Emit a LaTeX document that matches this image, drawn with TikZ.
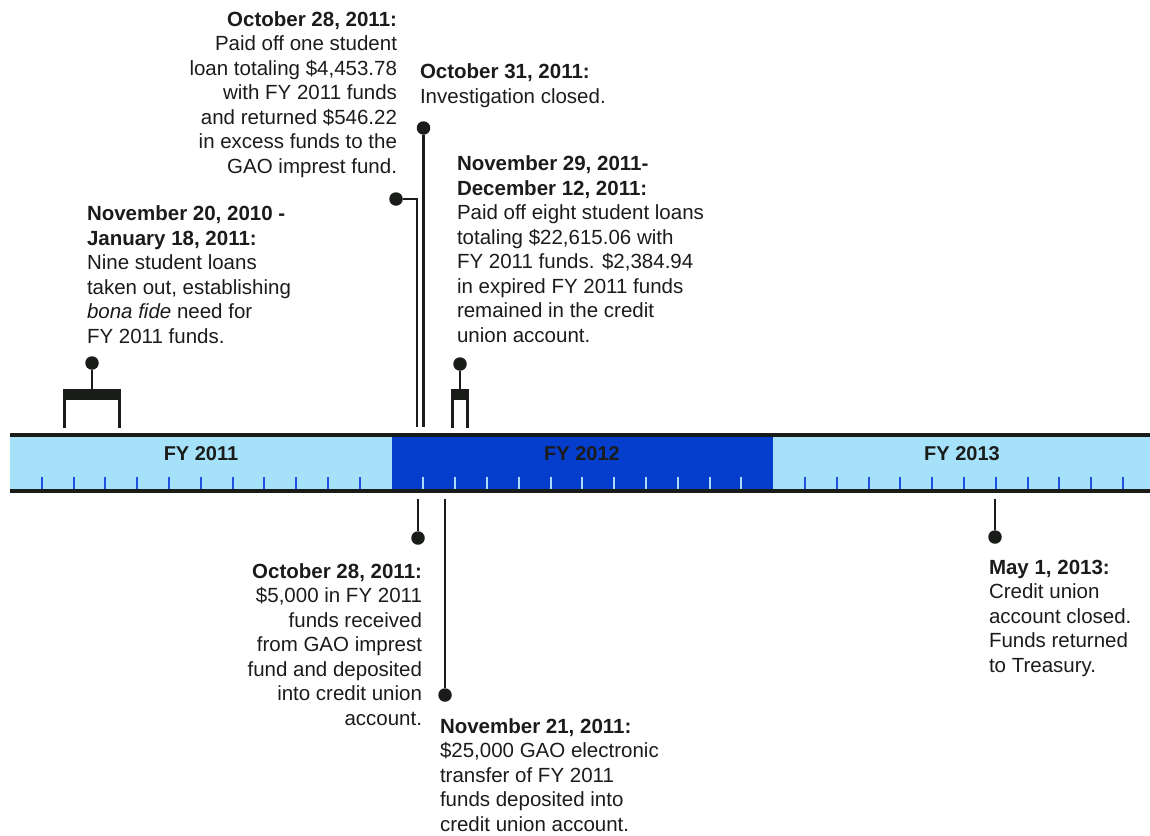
\documentclass[tikz,border=0pt]{standalone}
\usepackage{fontspec}
\setmainfont{Liberation Sans}
\definecolor{lightfy}{RGB}{166,225,250}
\definecolor{darkfy}{RGB}{5,62,205}
\definecolor{tickblue}{RGB}{30,80,225}
\definecolor{ticklight}{RGB}{170,220,250}
\definecolor{ink}{RGB}{26,28,26}
\begin{document}
\begin{tikzpicture}[x=1pt,y=-1pt,
  txt/.style={inner sep=0pt, outer sep=0pt, font=\fontsize{20.5}{24.5}\selectfont, text=ink},
  fylabel/.style={inner sep=0pt, font=\fontsize{20}{24}\selectfont\bfseries, text=ink, anchor=base},
  dotnode/.style={circle, fill=ink, inner sep=0pt, minimum size=13.5pt},
  stem/.style={draw=ink, line width=2.6pt},
  barline/.style={draw=ink, line width=4pt},
  tick/.style={line width=2pt}]
\useasboundingbox (0,0) rectangle (1150,835);
% bar
\fill[lightfy] (10,436.7) rectangle (1150,489.7);
\fill[darkfy] (391.6,436.7) rectangle (773.2,489.7);
\foreach \k/\c in {0/tickblue,1/ticklight,2/tickblue}{
  \foreach \i in {1,...,11}{
    \draw[tick,\c] ({10+\k*381.6+\i*31.8},476.7) -- ({10+\k*381.6+\i*31.8},489.7);
  }
}
\draw[barline] (10,434.7) -- (1150,434.7);
\draw[barline] (10,491.2) -- (1150,491.2);
\node[fylabel] (fy1) at (201,460) {FY 2011};
\node[fylabel] (fy2) at (582,460) {FY 2012};
\node[fylabel] (fy3) at (962,460) {FY 2013};
% Nov 20 2010 - Jan 18 2011 bracket
\fill[ink] (63,389) rectangle (121,400);
\draw[stem] (64.3,400) -- (64.3,428);
\draw[stem] (119.7,400) -- (119.7,428);
\node[dotnode] (d1) at (92,363) {};
\coordinate (b1) at (92,390);
\draw[stem] (d1) -- (b1);
% Nov 29 - Dec 12 bracket
\fill[ink] (451,389) rectangle (469,400);
\draw[stem] (452.3,400) -- (452.3,428);
\draw[stem] (467.7,400) -- (467.7,428);
\node[dotnode] (d5) at (460,364) {};
\coordinate (b5) at (460,390);
\draw[stem] (d5) -- (b5);
% Oct 28 top
\node[dotnode] (d2) at (396,199) {};
\coordinate (b2) at (417,427);
\draw[stem] (d2) -| (b2);
% Oct 31
\node[dotnode] (d3) at (423.5,128) {};
\coordinate (b3) at (423.5,427);
\draw[stem] (d3) -- (b3);
% bottom Oct 28
\coordinate (b4) at (418,499);
\node[dotnode] (d4) at (418,538) {};
\draw[stem] (b4) -- (d4);
% Nov 21
\coordinate (b6) at (445,499);
\node[dotnode] (d6) at (445,695) {};
\draw[stem] (b6) -- (d6);
% May 1 2013
\coordinate (b7) at (995,499);
\node[dotnode] (d7) at (995,537) {};
\draw[stem] (b7) -- (d7);
% texts (base anchor = baseline of last line)
\node[txt, anchor=base east, align=right] (t2) at (397,173) {\textbf{October 28, 2011:}\\Paid off one student\\loan totaling \$4,453.78\\with FY 2011 funds\\and returned \$546.22\\in excess funds to the\\GAO imprest fund.};
\node[txt, anchor=base west, align=left] (t3) at (420,103) {\textbf{October 31, 2011:}\\Investigation closed.};
\node[txt, anchor=base west, align=left] (t5) at (457,342) {\textbf{November 29, 2011-}\\\textbf{December 12, 2011:}\\Paid off eight student loans\\totaling \$22,615.06 with\\FY 2011 funds. \$2,384.94\\in expired FY 2011 funds\\remained in the credit\\union account.};
\node[txt, anchor=base west, align=left] (t1) at (87,343) {\textbf{November 20, 2010 -}\\\textbf{January 18, 2011:}\\Nine student loans\\taken out, establishing\\\textit{bona fide} need for\\FY 2011 funds.};
\node[txt, anchor=base east, align=right] (t4) at (422,725) {\textbf{October 28, 2011:}\\\$5,000 in FY 2011\\funds received\\from GAO imprest\\fund and deposited\\into credit union\\account.};
\node[txt, anchor=base west, align=left] (t6) at (440,831) {\textbf{November 21, 2011:}\\\$25,000 GAO electronic\\transfer of FY 2011\\funds deposited into\\credit union account.};
\node[txt, anchor=base west, align=left] (t7) at (989,672) {\textbf{May 1, 2013:}\\Credit union\\account closed.\\Funds returned\\to Treasury.};
\end{tikzpicture}
\end{document}
